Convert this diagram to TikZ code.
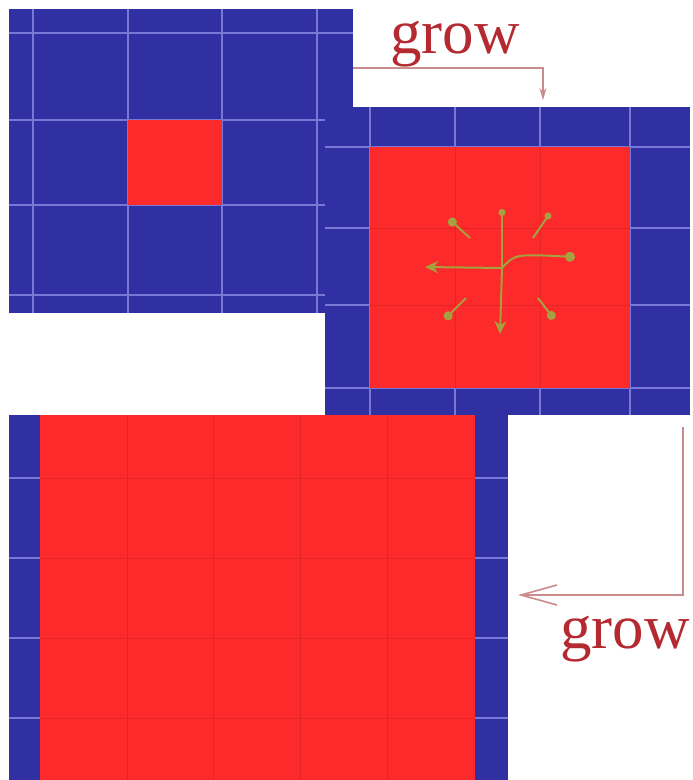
\documentclass[tikz,border=0pt]{standalone}
\usepackage{fontspec}
\setmainfont{Liberation Serif}
\usetikzlibrary{arrows.meta,positioning,calc}
\definecolor{cBlue}{HTML}{3030A2}
\definecolor{cRed}{HTML}{FC2A2A}
\definecolor{cGrid}{HTML}{7878D6}
\definecolor{cRedGrid}{HTML}{E62424}
\definecolor{cText}{HTML}{B42A30}
\definecolor{cArrow}{HTML}{C88C8C}
\definecolor{cOlive}{HTML}{A6A040}
\tikzset{
  panel/.style={fill=#1,draw=none,inner sep=0pt,outer sep=0pt,anchor=north west},
  panel/.default=cBlue,
  gline/.style={draw=cGrid,line width=1.4pt},
  rline/.style={draw=cRedGrid,line width=0.8pt},
  growarr/.style={draw=cArrow,line width=1.6pt},
  growlbl/.style={text=cText,font=\fontsize{63}{63}\selectfont,inner sep=0pt,anchor=base west},
  spark/.style={draw=cOlive,line width=2pt},
}

\begin{document}
\begin{tikzpicture}[x=1pt,y=-1pt]
  \useasboundingbox (0,0) rectangle (693,780);
  % first state: a single red cell
  \node[panel,minimum width=344pt,minimum height=304pt] (p1) at (9,9) {};
  \foreach \x in {33,128,222,317} \draw[gline] (\x,9) -- (\x,313);
  \foreach \y in {33,120,205,295} \draw[gline] (9,\y) -- (353,\y);
  \node[panel=cRed,minimum width=94pt,minimum height=85pt] (c1) at (128,120) {};

  % second state: 3x3 block
  \node[panel,minimum width=365pt,minimum height=308pt] (p2) at (325,107) {};
  \foreach \x in {370,455,540,630} \draw[gline] (\x,107) -- (\x,415);
  \foreach \y in {147,228,305,388} \draw[gline] (325,\y) -- (690,\y);
  \node[panel=cRed,minimum width=260pt,minimum height=241pt] (c2) at (370,147) {};
  \foreach \x in {455,540} \draw[rline] (\x,147) -- (\x,388);
  \foreach \y in {228,305} \draw[rline] (370,\y) -- (630,\y);

  % growth directions
  \coordinate (ctr) at (502,268);
  \draw[spark,-{Circle[length=7pt]}] (ctr) -- (502,209);
  \draw[spark,-{Stealth[length=13pt,width=12pt]}] (ctr) -- (500,334);
  \draw[spark,-{Stealth[length=13pt,width=12pt]}] (ctr) -- (425,267);
  \draw[spark,-{Circle[length=10pt]}] (ctr) .. controls (515,254) .. (575,257);
  \draw[spark,-{Circle[length=9pt]}] (470,238) -- (449,219);
  \draw[spark,-{Circle[length=7pt]}] (533,238) -- (550,213);
  \draw[spark,-{Circle[length=9pt]}] (466,298) -- (445,319);
  \draw[spark,-{Circle[length=9pt]}] (538,298) -- (554,319);

  % third state: large block
  \node[panel,minimum width=499pt,minimum height=365pt] (p3) at (9,415) {};
  \foreach \y in {478,558,638,718} \draw[gline] (9,\y) -- (508,\y);
  \node[panel=cRed,minimum width=435pt,minimum height=365pt] (c3) at (40,415) {};
  \foreach \x in {127,213,300,387} \draw[rline] (\x,415) -- (\x,780);
  \foreach \y in {478,558,638,718} \draw[rline] (40,\y) -- (475,\y);

  % grow labels and arrows
  \node[growlbl] (t1) at (390,53) {grow};
  \node[growlbl] (t2) at (560,648) {grow};
  \coordinate (k1) at (543,68);
  \coordinate (k2) at (683,595);
  \draw[growarr,-{Stealth[length=12pt,width=7pt]}] (p1.east |- k1) -| ($(p2.north -| k1)+(0,-7)$);
  \draw[growarr,-{Straight Barb[length=36pt,width=20pt]}] ($(k2 |- p2.south)+(0,12)$) -- (k2) -- ($(p3.east |- k2)+(10,0)$);
\end{tikzpicture}
\end{document}
